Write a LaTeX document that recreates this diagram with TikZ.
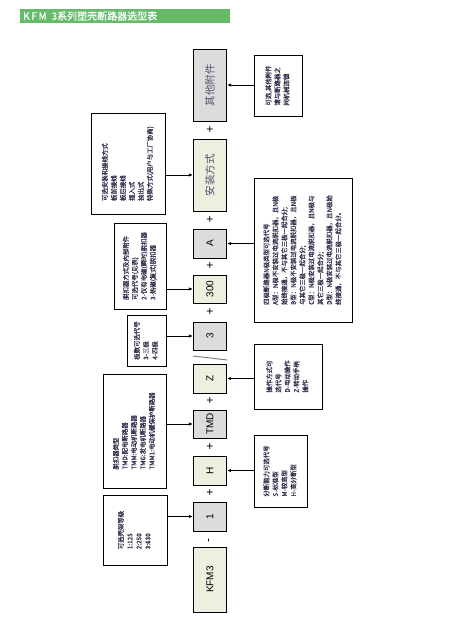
\documentclass[tikz,border=0pt]{standalone}
\usepackage{fontspec}
\setmainfont{Liberation Sans}
\newfontfamily\cjk{Noto Sans CJK SC}
\newfontfamily\cjkb[FakeBold=0.5]{Noto Sans CJK SC}
\usetikzlibrary{arrows.meta}
\definecolor{boxgray}{RGB}{220,220,220}
\definecolor{boxgreen}{RGB}{235,241,222}
\definecolor{titlegreen}{RGB}{102,187,106}
\definecolor{txt}{RGB}{50,45,75}
\definecolor{mtxt}{RGB}{85,80,110}
\tikzset{
  main/.style={draw, line width=0.8pt, minimum width=33.5pt, inner sep=0pt},
  mgray/.style={main, fill=boxgray},
  mgreen/.style={main, fill=boxgreen},
  side/.style={draw, line width=0.8pt, inner sep=0pt, fill=white, text=txt},
  arr/.style={-{Latex[length=4pt,width=3.5pt]}, line width=0.8pt},
  sym/.style={inner sep=0pt, font=\fontsize{12}{12}\selectfont},
}
\newcommand{\vtxt}[1]{\rotatebox{90}{\fontsize{6.4}{9}\selectfont\cjkb\begin{tabular}{@{}l@{}}#1\end{tabular}}}
\newcommand{\mtext}[2][10.5]{\rotatebox{90}{\fontsize{#1}{#1}\selectfont #2}}
\begin{document}
\begin{tikzpicture}[x=1pt,y=-1pt]
\useasboundingbox (0,0) rectangle (457,633);
% title
\node[fill=titlegreen, minimum width=210pt, minimum height=13.5pt, inner sep=0pt, anchor=north west, text=white, font=\cjkb\fontsize{10}{10}\selectfont, align=left, text width=204pt] (title) at (20,9) {K\,F\,M\, 3系列塑壳断路器选型表};
% main column
\node[mgray,  minimum height=72pt] (acc)  at (210,85)    {\mtext{\color{mtxt}\cjk 其他附件}};
\node[mgreen, minimum height=72pt] (inst) at (210,175)   {\mtext{\color{mtxt}\cjk 安装方式}};
\node[mgray,  minimum height=29pt] (mA)   at (210,243.5) {\mtext[10]{A}};
\node[mgreen, minimum height=28pt] (m300) at (210,289)   {\mtext[10]{300}};
\node[mgray,  minimum height=28pt] (m3)   at (210,336)   {\mtext[10]{3}};
\node[mgreen, minimum height=29pt] (mZ)   at (210,378.5) {\mtext[10]{Z}};
\node[mgray,  minimum height=28pt] (mTMD) at (210,424)   {\mtext[10]{TMD}};
\node[mgreen, minimum height=29pt] (mH)   at (210,470.5) {\mtext[10]{H}};
\node[mgray,  minimum height=29pt] (m1)   at (210,516.5) {\mtext[10]{1}};
\node[mgreen, minimum height=65pt] (mKFM) at (210,579.5) {\mtext[10]{KFM3}};
% separators
\node[sym] (p1) at (210,130) {+};
\node[sym] (p2) at (210,220) {+};
\node[sym] (p3) at (210,266) {+};
\node[sym] (p4) at (210,312) {+};
\node[sym] (p5) at (210,401) {+};
\node[sym] (p6) at (210,447) {+};
\node[sym] (p7) at (210,493) {+};
\node[sym, rotate=90] (p8) at (210,540) {-};
\draw[gray, line width=1pt] (193,356) -- (227,360);
% right side boxes
\node[side, minimum width=48pt, minimum height=61pt] (r1) at (278,85.5)
  {\vtxt{可选,其他附件\\请与断路器之\\间机械连锁}};
\node[side, minimum width=98pt, minimum height=144pt] (r2) at (303,250)
  {\vtxt{四极断路器N极类型可选代号\\A型：N极不安装过电流脱扣器，且N极\\始终接通，不与其它三极一起合分;\\B型：N极不安装过电流脱扣器，且N极\\与其它三极一起合分;\\C型：N极安装过电流脱扣器，且N极与\\其它三极一起合分;\\D型：N极安装过电流脱扣器，且N极始\\终接通，不与其它三极一起合分。}};
\node[side, minimum width=68pt, minimum height=65pt] (r3) at (288,376.5)
  {\vtxt{操作方式可\\选代号\\D-电动操作\\Z-转动手柄\\操作}};
\node[side, minimum width=53pt, minimum height=72pt] (r4) at (280.5,471)
  {\vtxt{分断能力可选代号\\S-标准型\\M-较高型\\H-高分断型}};
% left side boxes
\node[side, minimum width=74pt, minimum height=101pt] (l1) at (128,163.5)
  {\vtxt{可选安装和接线方式\\板前接线\\板后接线\\插入式\\抽出式\\特殊方式(用户与工厂协商)}};
\node[side, minimum width=52pt, minimum height=86pt] (l2) at (140,266)
  {\vtxt{脱扣器方式及内部附件\\可选代号(见表)\\2-仅有电磁(瞬时)脱扣器\\3-热磁(复式)脱扣器}};
\node[side, minimum width=39pt, minimum height=51pt] (l3) at (146.5,340.5)
  {\vtxt{极数可选代号\\3-三极\\4-四极}};
\node[side, minimum width=63pt, minimum height=114pt] (l4) at (134.5,431)
  {\vtxt{脱扣器类型\\TMD:配电断路器\\TMM:电动机断路器\\TMG:发电机断路器\\TMM1:电动机缓保护断路器}};
\node[side, minimum width=64pt, minimum height=70pt] (l5) at (135,530)
  {\vtxt{可选壳架等级\\1:125\\2:250\\3:630}};
% connectors
\draw[arr] (r1.west |- acc) -- (acc.east);
\draw[arr] (r2.west |- mA) -- (mA.east);
\draw[arr] (r3.west |- mZ) -- (mZ.east);
\draw[arr] (r4.west |- mH) -- (mH.east);
\draw[arr] (l1.east |- inst) -- (inst.west);
\draw[arr] (l2.east |- m300) -- (m300.west);
\draw[arr] (l3.east |- m3) -- (m3.west);
\draw[arr] (l4.east |- mTMD) -- (mTMD.west);
\draw[arr] (l5.east |- m1) -- (m1.west);
\end{tikzpicture}
\end{document}
